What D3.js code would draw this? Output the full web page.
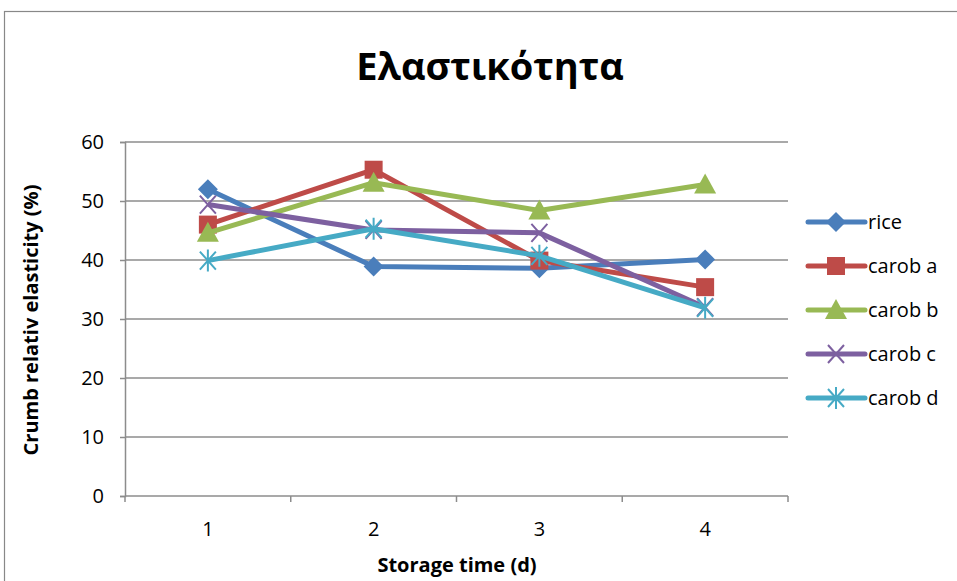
<!DOCTYPE html>
<html><head><meta charset="utf-8">
<script src="https://cdn.jsdelivr.net/npm/d3@7"></script>
<style>body{margin:0;background:#fff}svg{display:block}</style>
</head><body>
<svg id="c" width="957" height="581"></svg>
<script>
const categories = ["1","2","3","4"];
const seriesNames = ["rice","carob a","carob b","carob c","carob d"];
const rice   = [52.0, 38.9, 38.6, 40.1];
const carobA = [46.0, 55.3, 39.9, 35.4];
const carobB = [44.6, 53.1, 48.4, 52.8];
const carobC = [49.4, 45.1, 44.6, 32.0];
const carobD = [39.9, 45.3, 40.7, 31.9];
const yTicks = [0,10,20,30,40,50,60];
const colors = ["#4A7EBB","#BE4B48","#98B954","#7D60A0","#46AAC5"];
const markers = ["diamond","square","triangle","x","star"];
const values = [rice, carobA, carobB, carobC, carobD];

const font = "'Open Sans', sans-serif";
const svg = d3.select("#c");
svg.append("rect").attr("x",4.5).attr("y",11.5).attr("width",1000).attr("height",700)
  .attr("fill","#fff").attr("stroke","#888").attr("stroke-width",1.2);

const L=125, R=788, T=142, B=496;
const x = d3.scaleBand().domain(categories).range([L,R]);
const y = d3.scaleLinear().domain([0,60]).range([B,T]);

svg.append("g").selectAll("line").data(yTicks.filter(d=>d>0)).join("line")
  .attr("x1",L).attr("x2",R).attr("y1",d=>y(d)).attr("y2",d=>y(d))
  .attr("stroke","#8c8c8c").attr("stroke-width",1.5);

const ya = svg.append("g").attr("transform",`translate(${L},0)`)
  .call(d3.axisLeft(y).tickValues(yTicks).tickSize(5).tickPadding(16));
ya.select(".domain").attr("stroke","#8c8c8c").attr("stroke-width",1.5);
ya.selectAll(".tick line").attr("stroke","#8c8c8c").attr("stroke-width",1.5);
ya.selectAll("text").attr("font-family",font).attr("font-size",20).attr("fill","#000");

const xa = svg.append("g").attr("transform",`translate(0,${B})`)
  .call(d3.axisBottom(x).tickSize(0).tickPadding(26));
xa.select(".domain").remove();
xa.selectAll("text").attr("font-family",font).attr("font-size",20).attr("fill","#000");
svg.append("line").attr("x1",L).attr("x2",R).attr("y1",B).attr("y2",B)
  .attr("stroke","#8c8c8c").attr("stroke-width",1.5);
const bounds = categories.map(c=>x(c)).concat([R]);
svg.append("g").selectAll("line").data(bounds).join("line")
  .attr("x1",d=>d).attr("x2",d=>d).attr("y1",B).attr("y2",B+6)
  .attr("stroke","#8c8c8c").attr("stroke-width",1.5);

const cx = c => x(c) + x.bandwidth()/2;

function drawMarker(g, type, color, px, py){
  if(type==="diamond"){
    g.append("path").attr("d",`M${px},${py-10}L${px+10},${py}L${px},${py+10}L${px-10},${py}Z`).attr("fill",color);
  } else if(type==="square"){
    g.append("rect").attr("x",px-9).attr("y",py-9).attr("width",18).attr("height",18).attr("fill",color);
  } else if(type==="triangle"){
    g.append("path").attr("d",`M${px},${py-11}L${px+11},${py+9}L${px-11},${py+9}Z`).attr("fill",color);
  } else if(type==="x"){
    g.append("path").attr("d",`M${px-8},${py-9}L${px+8},${py+9}M${px-8},${py+9}L${px+8},${py-9}`)
      .attr("stroke",color).attr("stroke-width",2).attr("fill","none");
  } else if(type==="star"){
    g.append("path").attr("d",`M${px-8},${py-9}L${px+8},${py+9}M${px-8},${py+9}L${px+8},${py-9}M${px},${py-11}L${px},${py+11}`)
      .attr("stroke",color).attr("stroke-width",2).attr("fill","none");
  }
}

const line = d3.line().x((d,i)=>cx(categories[i])).y(d=>y(d));
values.forEach((vals,si)=>{
  const g = svg.append("g");
  g.append("path").attr("d",line(vals)).attr("fill","none")
    .attr("stroke",colors[si]).attr("stroke-width",5).attr("stroke-linejoin","round");
  vals.forEach((v,i)=>drawMarker(g, markers[si], colors[si], cx(categories[i]), y(v)));
});

seriesNames.forEach((n,i)=>{
  const ly = 222 + i*44;
  const g = svg.append("g");
  g.append("line").attr("x1",808).attr("x2",865).attr("y1",ly).attr("y2",ly)
    .attr("stroke",colors[i]).attr("stroke-width",5).attr("stroke-linecap","round");
  drawMarker(g, markers[i], colors[i], 836, ly);
  g.append("text").attr("x",868).attr("y",ly).attr("dy","0.35em")
    .attr("font-family",font).attr("font-size",20).text(n);
});

svg.append("text").attr("x",490).attr("y",80).attr("text-anchor","middle")
  .attr("font-family",font).attr("font-weight","bold").attr("font-size",38).text("Ελαστικότητα");
svg.append("text").attr("x",457).attr("y",572).attr("text-anchor","middle")
  .attr("font-family",font).attr("font-weight","bold").attr("font-size",20).text("Storage time (d)");
svg.append("text").attr("transform","translate(38,320) rotate(-90)").attr("text-anchor","middle")
  .attr("font-family",font).attr("font-weight","bold").attr("font-size",20).text("Crumb relativ elasticity (%)");
</script>
</body></html>
